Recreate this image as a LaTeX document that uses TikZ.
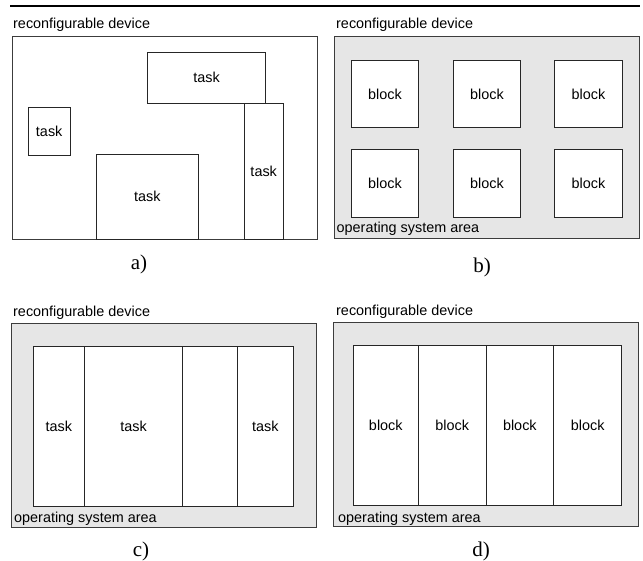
\documentclass[tikz,border=0pt]{standalone}
\usepackage{fontspec}
\setmainfont{Liberation Serif}
\newfontfamily\lblfont{Liberation Sans}
\usetikzlibrary{positioning}
\definecolor{osgray}{RGB}{230,230,230}
\definecolor{frame}{RGB}{60,60,60}

\tikzset{
  device/.style={draw=frame, line width=0.9pt},
  osarea/.style={device, fill=osgray},
  slot/.style={draw=black!85, fill=white, line width=0.8pt, inner sep=0pt, font=\lblfont\fontsize{14.4}{16}\selectfont},
  devlabel/.style={anchor=base west, inner sep=0pt, font=\lblfont\fontsize{14.4}{16}\selectfont},
  caption/.style={anchor=base, inner sep=0pt, font=\fontsize{21}{24}\selectfont}
}

\begin{document}
\begin{tikzpicture}[x=1pt, y=-1pt]

\useasboundingbox (0,0) rectangle (643,561);

% top rule
\draw[line width=2pt] (10,6) -- (640,6);

%====================================================
% PANEL a): tasks placed freely
%====================================================
\begin{scope}
  \node[devlabel] (deva) at (13,28.5) {reconfigurable device};
  \draw[device] (12,36) rectangle (317,239);

  \node[slot, minimum width=118.4, minimum height=51]   (ta1) at (206.5,77.8)  {task};
  \node[slot, minimum width=42.3,  minimum height=47.3] (ta2) at (49.2,131.3)  {task};
  \node[slot, minimum width=102,   minimum height=84.7] (ta3) at (147.3,196.7) {task};
  \node[slot, minimum width=38.7,  minimum height=135.7] (ta4) at (263.7,171.2) {task};

  \node[caption] (capa) at (139,270) {a)};
\end{scope}

%====================================================
% PANEL b): fixed square blocks
%====================================================
\begin{scope}
  \node[devlabel] (devb) at (336,28.5) {reconfigurable device};
  \draw[osarea] (334,36) rectangle (639,238.3);
  \node[devlabel] (osb) at (336.5,232.5) {operating system area};

  % blocks, two rows of three
  \foreach \c/\x in {1/385,2/487,3/588.5}{
    \foreach \r/\y in {1/94,2/183.5}{
      \node[slot, minimum width=67.5, minimum height=67.5] (tb\r\c) at (\x,\y) {block};
    }
  }

  \node[caption] (capb) at (482,273) {b)};
\end{scope}

%====================================================
% PANEL c): tasks in columns
%====================================================
\begin{scope}
  \node[devlabel] (devc) at (13,317) {reconfigurable device};
  \draw[osarea] (11,323.3) rectangle (316,527.3);
  \node[devlabel] (osc) at (14,522.5) {operating system area};

  \node[slot, minimum width=51,   minimum height=160.7] (tc1) at (58.8,426.4)  {task};
  \node[slot, minimum width=98.4, minimum height=160.7] (tc2) at (133.5,426.4) {task};
  \node[slot, minimum width=54.3, minimum height=160.7] (tc3) at (209.85,426.4) {};
  \node[slot, minimum width=56.7, minimum height=160.7] (tc4) at (265.35,426.4) {task};

  \node[caption] (capc) at (141,556) {c)};
\end{scope}

%====================================================
% PANEL d): fixed column blocks
%====================================================
\begin{scope}
  \node[devlabel] (devd) at (336,316) {reconfigurable device};
  \draw[osarea] (333.3,322.3) rectangle (638.3,526);
  \node[devlabel] (osd) at (338,522) {operating system area};

  \node[slot, minimum width=65,   minimum height=160] (td1) at (385.8,425)  {block};
  \node[slot, minimum width=67.7, minimum height=160] (td2) at (452.15,425) {block};
  \node[slot, minimum width=67.7, minimum height=160] (td3) at (519.85,425) {block};
  \node[slot, minimum width=68,   minimum height=160] (td4) at (587.7,425)  {block};

  \node[caption] (capd) at (481,556) {d)};
\end{scope}

\end{tikzpicture}
\end{document}
